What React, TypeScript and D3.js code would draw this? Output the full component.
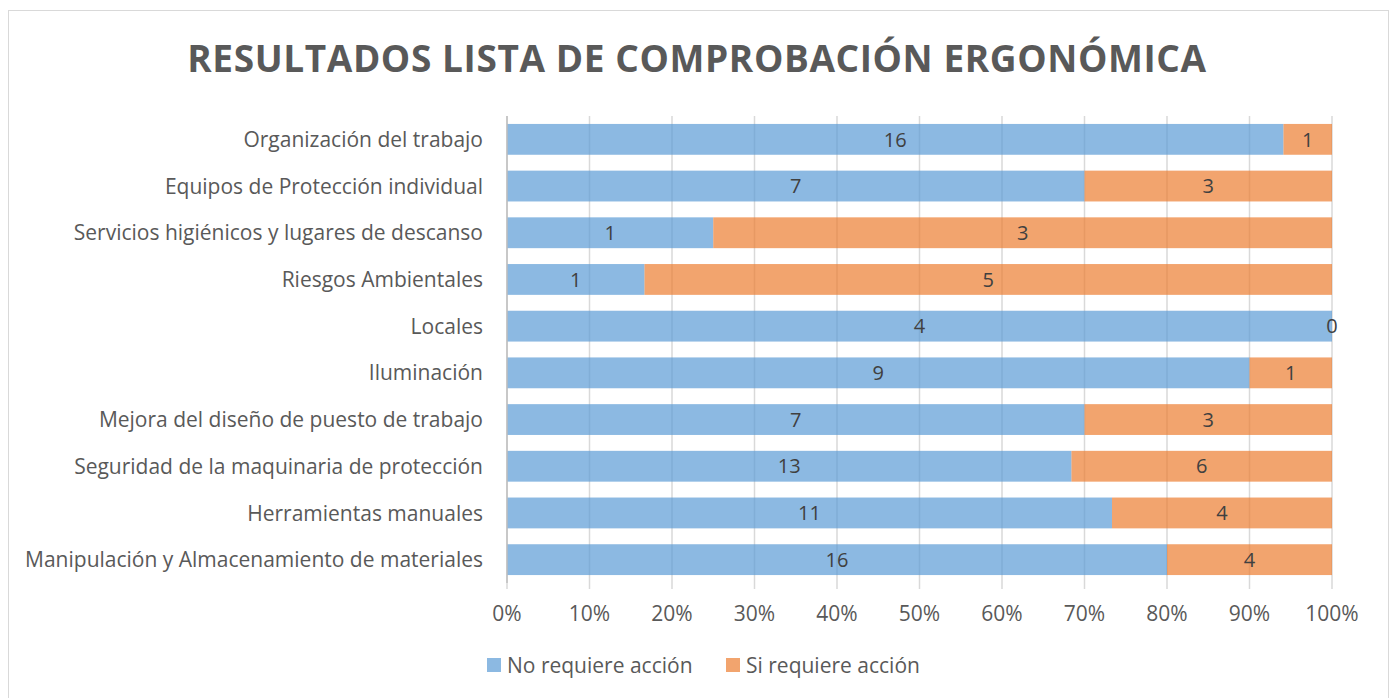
import { useEffect, useRef } from "react";
import * as d3 from "d3";

const categories = [
  "Organización del trabajo",
  "Equipos de Protección individual",
  "Servicios higiénicos y lugares de descanso",
  "Riesgos Ambientales",
  "Locales",
  "Iluminación",
  "Mejora del diseño de puesto de trabajo",
  "Seguridad de la maquinaria de protección",
  "Herramientas manuales",
  "Manipulación y Almacenamiento de materiales",
];
const noRequiere = [16, 7, 1, 1, 4, 9, 7, 13, 11, 16];
const siRequiere = [1, 3, 3, 5, 0, 1, 3, 6, 4, 4];
const seriesNames = ["No requiere acción", "Si requiere acción"];
const seriesColors = ["#5B9BD5", "#ED7D31"];
const xTicks = [0, 0.1, 0.2, 0.3, 0.4, 0.5, 0.6, 0.7, 0.8, 0.9, 1];

const FONT = "'Open Sans', 'Noto Sans', sans-serif";

export default function App() {
  const svgRef = useRef<SVGSVGElement>(null);

  useEffect(() => {
    if (!svgRef.current) return;
    const width = 1392;
    const height = 698;
    const margin = { top: 116, left: 507, right: 60, bottom: 115 };
    const innerW = width - margin.left - margin.right;
    const innerH = height - margin.top - margin.bottom;

    const svg = d3.select(svgRef.current);
    svg.selectAll("*").remove();

    svg.append("rect").attr("width", width).attr("height", height).attr("fill", "#fff");
    svg
      .append("rect")
      .attr("x", 8.5)
      .attr("y", 10.5)
      .attr("width", 1380)
      .attr("height", 700)
      .attr("fill", "none")
      .attr("stroke", "#d9d9d9");

    svg
      .append("text")
      .attr("x", 697)
      .attr("y", 72)
      .attr("text-anchor", "middle")
      .attr("fill", "#595959")
      .attr("font-family", FONT)
      .attr("font-weight", 700)
      .attr("font-size", 37)
      .attr("letter-spacing", 0.6)
      .text("RESULTADOS LISTA DE COMPROBACIÓN ERGONÓMICA");

    const x = d3.scaleLinear().domain([0, 1]).range([0, innerW]);
    const y = d3.scaleBand().domain(categories).range([0, innerH]).paddingInner(0.34).paddingOuter(0.17);

    const g = svg.append("g").attr("transform", `translate(${margin.left},${margin.top})`);

    // grid
    g.selectAll("line.grid")
      .data(xTicks)
      .join("line")
      .attr("class", "grid")
      .attr("x1", (d) => x(d))
      .attr("x2", (d) => x(d))
      .attr("y1", 0)
      .attr("y2", innerH + 6)
      .attr("stroke", "#d9d9d9")
      .attr("stroke-width", 1.5);

    const rows = categories.map((c, i) => {
      const total = noRequiere[i] + siRequiere[i];
      return { c, vals: [noRequiere[i], siRequiere[i]], total };
    });

    rows.forEach((r) => {
      let acc = 0;
      r.vals.forEach((v, si) => {
        const x0 = x(acc / r.total);
        const x1 = x((acc + v) / r.total);
        acc += v;
        g.append("rect")
          .attr("x", x0)
          .attr("y", y(r.c)!)
          .attr("width", x1 - x0)
          .attr("height", y.bandwidth())
          .attr("fill", seriesColors[si])
          .attr("fill-opacity", 0.7);
        g.append("text")
          .attr("x", (x0 + x1) / 2)
          .attr("y", y(r.c)! + y.bandwidth() / 2)
          .attr("dy", "0.36em")
          .attr("text-anchor", "middle")
          .attr("fill", "#404040")
          .attr("font-family", FONT)
          .attr("font-size", 20)
          .text(v);
      });
    });

    // left axis line
    g.append("line")
      .attr("x1", 0)
      .attr("x2", 0)
      .attr("y1", 0)
      .attr("y2", innerH)
      .attr("stroke", "#bfbfbf")
      .attr("stroke-width", 1.5);

    // category labels
    g.selectAll("text.cat")
      .data(categories)
      .join("text")
      .attr("class", "cat")
      .attr("x", -24)
      .attr("y", (d) => y(d)! + y.bandwidth() / 2)
      .attr("dy", "0.36em")
      .attr("text-anchor", "end")
      .attr("fill", "#595959")
      .attr("font-family", FONT)
      .attr("font-size", 21)
      .text((d) => d);

    // x tick labels
    g.selectAll("text.tick")
      .data(xTicks)
      .join("text")
      .attr("class", "tick")
      .attr("x", (d) => x(d))
      .attr("y", innerH + 30)
      .attr("dy", "0.36em")
      .attr("text-anchor", "middle")
      .attr("fill", "#595959")
      .attr("font-family", FONT)
      .attr("font-size", 21)
      .text((d) => d3.format(".0%")(d));

    // legend
    const legendX = [487, 726];
    seriesNames.forEach((n, i) => {
      svg
        .append("rect")
        .attr("x", legendX[i])
        .attr("y", 658)
        .attr("width", 14)
        .attr("height", 14)
        .attr("fill", seriesColors[i])
        .attr("fill-opacity", 0.7);
      svg
        .append("text")
        .attr("x", legendX[i] + 20)
        .attr("y", 665)
        .attr("dy", "0.36em")
        .attr("fill", "#595959")
        .attr("font-family", FONT)
        .attr("font-size", 21)
        .text(n);
    });
  }, []);

  return (
    <svg
      ref={svgRef}
      width={1392}
      height={698}
      style={{ position: "absolute", left: 0, top: 0, display: "block" }}
    />
  );
}
